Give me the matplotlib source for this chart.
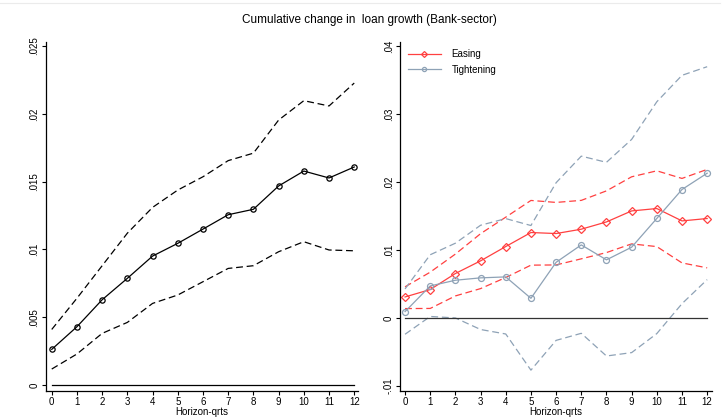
import matplotlib.pyplot as plt
from matplotlib.lines import Line2D

plt.rcParams['font.family'] = ['Liberation Sans', 'DejaVu Sans']

horizon = list(range(13))

# Bank-sector, all shocks
avg_mean = [0.00263, 0.0043, 0.00629, 0.00787, 0.00951, 0.01045, 0.0115,
            0.01256, 0.01296, 0.01468, 0.01578, 0.01527, 0.01608]
avg_upper = [0.0041, 0.0064, 0.0088, 0.0112, 0.0131, 0.01438, 0.01536,
             0.01655, 0.0171, 0.01954, 0.02097, 0.02058, 0.02227]
avg_lower = [0.00118, 0.00229, 0.00381, 0.00462, 0.00602, 0.00664, 0.00762,
             0.0086, 0.0088, 0.00983, 0.01057, 0.00996, 0.0099]

# Easing vs tightening
ease_mean = [0.00309, 0.00418, 0.00654, 0.0084, 0.01051, 0.01257, 0.01242,
             0.01306, 0.01413, 0.01575, 0.0161, 0.01428, 0.01463]
ease_upper = [0.00458, 0.00674, 0.0094, 0.0124, 0.01483, 0.01729, 0.0170,
              0.0173, 0.0187, 0.02077, 0.02165, 0.02053, 0.02186]
ease_lower = [0.00138, 0.0014, 0.00324, 0.00432, 0.00595, 0.00777, 0.0078,
              0.0087, 0.00962, 0.0109, 0.0105, 0.0081, 0.00737]

tight_mean = [0.00093, 0.00471, 0.00555, 0.0059, 0.00604, 0.00289, 0.00819,
              0.01075, 0.00855, 0.01041, 0.01464, 0.0189, 0.0213]
tight_upper = [0.00427, 0.0093, 0.0110, 0.01364, 0.01462, 0.0136, 0.0199,
               0.02381, 0.0229, 0.02627, 0.03181, 0.0357, 0.03697]
tight_lower = [-0.0024, 0.00022, 0.0, -0.0017, -0.00236, -0.00768, -0.0033,
               -0.00226, -0.0056, -0.0051, -0.0023, 0.0021, 0.00564]

left_ticks = [0, 0.005, 0.01, 0.015, 0.02, 0.025]
left_labels = ['0', '.005', '.01', '.015', '.02', '.025']
right_ticks = [-0.01, 0, 0.01, 0.02, 0.03, 0.04]
right_labels = ['-.01', '0', '.01', '.02', '.03', '.04']

red = '#ff4040'
slate = '#8ea2b6'
dash = (0, (5.5, 3))

fig = plt.figure(figsize=(7.24, 4.19), dpi=100)
ax1 = fig.add_axes([0.0631, 0.0668, 0.4314, 0.8337])
ax2 = fig.add_axes([0.5525, 0.0668, 0.4305, 0.8337])

ax1.plot(horizon, avg_upper, color='black', lw=0.9, linestyle=dash)
ax1.plot(horizon, avg_lower, color='black', lw=0.9, linestyle=dash)
ax1.plot(horizon, avg_mean, color='black', lw=0.9, marker='o', ms=3.8,
         mfc='none', mew=0.9)
ax1.plot([0, 12], [0, 0], color='black', lw=0.9)
ax1.set_xlim(-0.24, 12.15)
ax1.set_ylim(-0.00044, 0.02532)
ax1.set_yticks(left_ticks)
ax1.set_yticklabels(left_labels)

ax2.plot(horizon, ease_upper, color=red, lw=0.9, linestyle=dash)
ax2.plot(horizon, ease_lower, color=red, lw=0.9, linestyle=dash)
ax2.plot(horizon, tight_upper, color=slate, lw=0.9, linestyle=dash)
ax2.plot(horizon, tight_lower, color=slate, lw=0.9, linestyle=dash)
ax2.plot([0, 12], [0, 0], color='#333333', lw=0.9)
ax2.plot(horizon, ease_mean, color=red, lw=0.9, marker='D', ms=4.3,
         mfc='none', mew=0.9, label='Easing')
ax2.plot(horizon, tight_mean, color=slate, lw=0.9, marker='o', ms=4.3,
         mfc='none', mew=0.9, label='Tightening')
ax2.set_xlim(-0.2, 12.18)
ax2.set_ylim(-0.01075, 0.04065)
ax2.set_yticks(right_ticks)
ax2.set_yticklabels(right_labels)
leg = ax2.legend(loc='upper left', frameon=False, fontsize=7,
                 handlelength=3.4, handletextpad=1.1, markerscale=0.7,
                 borderaxespad=0.4, labelspacing=0.55)

for ax in (ax1, ax2):
    ax.spines['top'].set_visible(False)
    ax.spines['right'].set_visible(False)
    ax.spines['left'].set_linewidth(0.9)
    ax.spines['bottom'].set_linewidth(0.9)
    ax.set_xticks(horizon)
    ax.tick_params(labelsize=7, length=3, width=0.8, pad=1.5)
    for lab in ax.get_yticklabels():
        lab.set_rotation(90)
        lab.set_va('center')
    ax.set_xlabel('Horizon-qrts', fontsize=7, labelpad=0)

fig.text(0.5097, 0.952, 'Cumulative change in  loan growth (Bank-sector)',
         ha='center', va='center', fontsize=8.5)
fig.add_artist(Line2D([0.0, 0.995], [0.994, 0.994], color='#ebebeb', lw=0.8))

fig.savefig('out.png', dpi=100)
